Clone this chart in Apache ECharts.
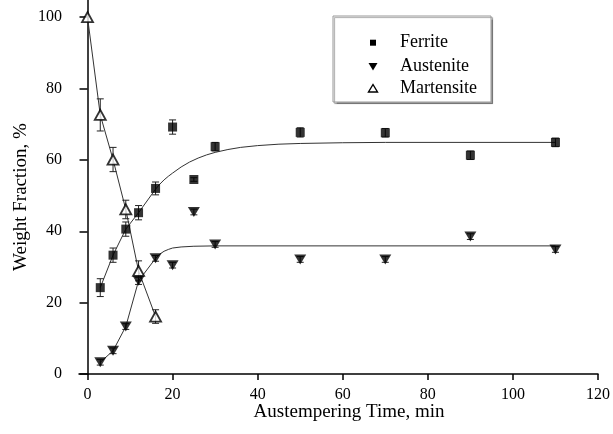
<!DOCTYPE html>
<html>
<head>
<meta charset="utf-8">
<script src="https://cdn.jsdelivr.net/npm/echarts@6/dist/echarts.min.js"></script>
<style>
  html, body { margin: 0; padding: 0; background: #fff; }
  #chart { width: 613px; height: 434px; }
</style>
</head>
<body>
<div id="chart"></div>
<script>
// Phase fractions vs. austempering time
const ferriteTime = [3, 6, 9, 12, 16, 20, 25, 30, 50, 70, 90, 110];
const ferriteVal  = [24.2, 33.3, 40.6, 45.2, 52.0, 69.2, 54.5, 63.7, 67.7, 67.6, 61.3, 64.9];
const ferriteErr  = [2.5, 2.0, 2.0, 2.0, 1.8, 2.0, 0.5, 1.2, 1.3, 1.2, 1.2, 1.2];

const austeniteTime = [3, 6, 9, 12, 16, 20, 25, 30, 50, 70, 90, 110];
const austeniteVal  = [3.3, 6.5, 13.3, 26.1, 32.4, 30.5, 45.4, 36.3, 32.1, 32.1, 38.5, 34.9];
const austeniteErr  = [0.8, 0.8, 0.8, 1.0, 0.8, 0.8, 0.8, 0.8, 0.8, 0.8, 0.8, 0.8];

const martensiteTime = [0, 3, 6, 9, 12, 16];
const martensiteVal  = [100, 72.6, 60.1, 46.1, 28.9, 16.1];
const martensiteErr  = [0, 4.5, 3.4, 2.6, 2.8, 1.9];

// Trend curves traced along the measured points
const ferriteCurveTime = [3, 6, 9, 12, 16, 17, 18, 19, 20, 22, 24, 26, 28, 30, 33, 36, 40, 45, 50, 60, 70, 110];
const ferriteCurveVal  = [24.2, 33.3, 40.6, 45.2, 51.8, 53.2, 54.4, 55.4, 56.3, 58.0, 59.4, 60.5, 61.4, 62.1, 62.9, 63.5, 64.0, 64.4, 64.6, 64.8, 64.9, 64.9];

const austeniteCurveTime = [3, 6, 9, 12, 16, 17, 18, 19, 20, 22, 25, 30, 110];
const austeniteCurveVal  = [3.3, 6.5, 13.3, 26.1, 32.4, 33.6, 34.4, 34.9, 35.3, 35.6, 35.8, 35.9, 35.9];

const martensiteCurveTime = [0, 3, 6, 9, 12, 16];
const martensiteCurveVal  = [100, 72.6, 60.1, 46.1, 28.9, 16.1];

const xTicks = [0, 20, 40, 60, 80, 100, 120];
const yTicks = [0, 20, 40, 60, 80, 100];
const legendNames = ['Ferrite', 'Austenite', 'Martensite'];

const FONT = '"Liberation Serif", "Times New Roman", serif';

const pairs = (xs, ys) => xs.map((x, i) => [x, ys[i]]);
const errRows = (xs, ys, es) => xs.map((x, i) => [x, ys[i] - es[i], ys[i] + es[i]]).filter((r, i) => es[i] > 0);

function errorBars(params, api) {
  const x = api.value(0);
  const lo = api.coord([x, api.value(1)]);
  const hi = api.coord([x, api.value(2)]);
  const hw = 3.5;
  const st = { stroke: '#222', lineWidth: 1 };
  return {
    type: 'group',
    children: [
      { type: 'line', shape: { x1: lo[0], y1: lo[1], x2: hi[0], y2: hi[1] }, style: st },
      { type: 'line', shape: { x1: hi[0] - hw, y1: hi[1], x2: hi[0] + hw, y2: hi[1] }, style: st },
      { type: 'line', shape: { x1: lo[0] - hw, y1: lo[1], x2: lo[0] + hw, y2: lo[1] }, style: st }
    ]
  };
}

// Legend box drawn as graphic elements: frame, glyph column, label column
const LEG = { x: 333, y: 16, w: 158, h: 86, glyphX: 373, textX: 400, rows: [42.7, 66.5, 88.5] };
function legendGraphic() {
  const r = LEG.rows, g = LEG.glyphX;
  const els = [
    {
      type: 'rect', z: 100,
      shape: { x: LEG.x, y: LEG.y, width: LEG.w, height: LEG.h },
      style: { fill: '#fff', stroke: '#999', lineWidth: 1, shadowBlur: 1, shadowOffsetX: 1.5, shadowOffsetY: 1.5, shadowColor: 'rgba(0,0,0,0.35)' }
    },
    { type: 'rect', z: 101, shape: { x: g - 3, y: r[0] - 3, width: 6, height: 6 }, style: { fill: '#000' } },
    { type: 'polygon', z: 101, shape: { points: [[g - 4.5, r[1] - 3.5], [g + 4.5, r[1] - 3.5], [g, r[1] + 4]] }, style: { fill: '#000' } },
    { type: 'polygon', z: 101, shape: { points: [[g, r[2] - 4], [g + 4.5, r[2] + 3.5], [g - 4.5, r[2] + 3.5]] }, style: { fill: '#fff', stroke: '#000', lineWidth: 1.4 } }
  ];
  legendNames.forEach((name, i) => {
    els.push({
      type: 'text', z: 101, x: LEG.textX, y: r[i],
      style: { text: name, fill: '#000', font: '18px ' + FONT, verticalAlign: 'middle', align: 'left' }
    });
  });
  return els;
}

const chart = echarts.init(document.getElementById('chart'), null, { renderer: 'canvas' });

const curveStyle = { color: '#333', width: 1 };

chart.setOption({
  animation: false,
  backgroundColor: '#fff',
  textStyle: { fontFamily: FONT, color: '#000' },
  grid: { left: 79, right: 10.3, top: 0, bottom: 60, containLabel: false },
  graphic: legendGraphic(),
  xAxis: {
    type: 'value',
    min: -2,
    max: 120,
    name: 'Austempering Time, min',
    nameLocation: 'middle',
    nameGap: 29,
    nameMoveOverlap: false,
    nameTextStyle: { fontFamily: FONT, fontSize: 19, color: '#000', padding: [0, 0, 0, 21] },
    axisLine: { show: true, lineStyle: { color: '#000', width: 1.5 } },
    axisTick: { show: true, length: 6, inside: false, lineStyle: { color: '#000', width: 1.5 }, customValues: xTicks },
    axisLabel: { fontFamily: FONT, fontSize: 16, color: '#000', margin: 13, customValues: xTicks },
    splitLine: { show: false }
  },
  yAxis: {
    type: 'value',
    min: 0,
    max: 104.8,
    name: 'Weight Fraction, %',
    nameLocation: 'middle',
    nameGap: 48,
    nameMoveOverlap: false,
    nameTextStyle: { fontFamily: FONT, fontSize: 19, color: '#000', padding: [0, 20, 0, 0] },
    axisLine: { show: true, lineStyle: { color: '#000', width: 1.5 } },
    axisTick: { show: true, length: 8, inside: false, lineStyle: { color: '#000', width: 1.5 }, customValues: yTicks },
    axisLabel: { fontFamily: FONT, fontSize: 16, color: '#000', margin: 17, customValues: yTicks },
    splitLine: { show: false }
  },
  series: [
    { name: 'ferriteCurve', type: 'line', data: pairs(ferriteCurveTime, ferriteCurveVal), showSymbol: false, lineStyle: curveStyle, z: 1, silent: true },
    { name: 'austeniteCurve', type: 'line', data: pairs(austeniteCurveTime, austeniteCurveVal), showSymbol: false, lineStyle: curveStyle, z: 1, silent: true },
    { name: 'martensiteCurve', type: 'line', data: pairs(martensiteCurveTime, martensiteCurveVal), showSymbol: false, lineStyle: curveStyle, z: 1, silent: true },
    { name: 'ferriteErr', type: 'custom', renderItem: errorBars, data: errRows(ferriteTime, ferriteVal, ferriteErr), z: 2, silent: true },
    { name: 'austeniteErr', type: 'custom', renderItem: errorBars, data: errRows(austeniteTime, austeniteVal, austeniteErr), z: 2, silent: true },
    { name: 'martensiteErr', type: 'custom', renderItem: errorBars, data: errRows(martensiteTime, martensiteVal, martensiteErr), z: 2, silent: true },
    {
      name: 'Ferrite', type: 'scatter', data: pairs(ferriteTime, ferriteVal),
      symbol: 'rect', symbolSize: 9, itemStyle: { color: '#000' }, z: 3
    },
    {
      name: 'Austenite', type: 'scatter', data: pairs(austeniteTime, austeniteVal),
      symbol: 'triangle', symbolRotate: 180, symbolSize: [12, 10], itemStyle: { color: '#000' }, z: 3
    },
    {
      name: 'Martensite', type: 'scatter', data: pairs(martensiteTime, martensiteVal),
      symbol: 'triangle', symbolSize: [11, 10], itemStyle: { color: '#fff', borderColor: '#000', borderWidth: 1.8 }, z: 4
    }
  ]
});
</script>
</body>
</html>
